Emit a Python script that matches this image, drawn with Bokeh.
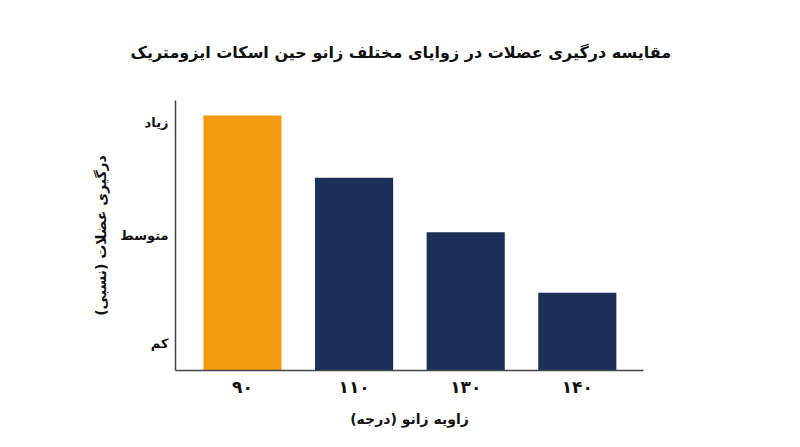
from bokeh.plotting import figure
from bokeh.models import FixedTicker, Range1d
from bokeh.embed import file_html
from bokeh.resources import INLINE

title_text = "مقایسه درگیری عضلات در زوایای مختلف زانو حین اسکات ایزومتریک"
x_label = "زاویه زانو (درجه)"
y_label = "درگیری عضلات (نسبی)"

angles = ["۹۰", "۱۱۰", "۱۳۰", "۱۴۰"]
activation = [94.4, 71.4, 51.2, 28.8]
colors = ["#F39C12", "#1B3058", "#1B3058", "#1B3058"]

y_tick_vals = [10, 50, 92]
y_tick_labels = ["کم", "متوسط", "زیاد"]

FONT = "DejaVu Sans"

xs = list(range(len(angles)))

p = figure(width=784, height=431, output_backend="svg", toolbar_location=None,
           x_range=Range1d(-0.60, 3.593), y_range=Range1d(0, 100),
           min_border_left=175, min_border_right=141, min_border_top=100, min_border_bottom=61)

p.vbar(x=xs, top=activation, width=0.70, bottom=0, fill_color=colors, line_color=None)

p.title.text = title_text
p.title.align = "left"
p.title.text_font = FONT
p.title.text_font_size = "16px"
p.title.text_font_style = "bold"
p.title.text_color = "#111111"
p.title.offset = -45
p.title.standoff = 78

p.xaxis.ticker = FixedTicker(ticks=xs)
p.xaxis.major_label_overrides = {i: a for i, a in zip(xs, angles)}
p.yaxis.ticker = FixedTicker(ticks=y_tick_vals)
p.yaxis.major_label_overrides = {v: l for v, l in zip(y_tick_vals, y_tick_labels)}

for ax in (p.xaxis[0], p.yaxis[0]):
    ax.major_tick_line_color = None
    ax.minor_tick_line_color = None
    ax.axis_line_color = "#444444"
    ax.axis_line_width = 1.5
    ax.major_label_text_font = FONT
    ax.major_label_text_font_style = "bold"
    ax.major_label_text_color = "#111111"
    ax.axis_label_text_font = FONT
    ax.axis_label_text_font_size = "14px"
    ax.axis_label_text_font_style = "bold"
    ax.axis_label_text_color = "#111111"

p.xaxis.major_label_text_font_size = "17px"
p.yaxis.major_label_text_font_size = "13px"
p.xaxis.axis_label = x_label
p.yaxis.axis_label = y_label
p.xaxis.major_label_standoff = 0
p.yaxis.major_label_standoff = 1
p.xaxis.axis_label_standoff = 11
p.yaxis.axis_label_standoff = 8

p.xgrid.grid_line_color = None
p.ygrid.grid_line_color = None
p.outline_line_color = None
p.background_fill_color = "white"
p.border_fill_color = "white"

open("out.html", "w").write(file_html(p, INLINE))
